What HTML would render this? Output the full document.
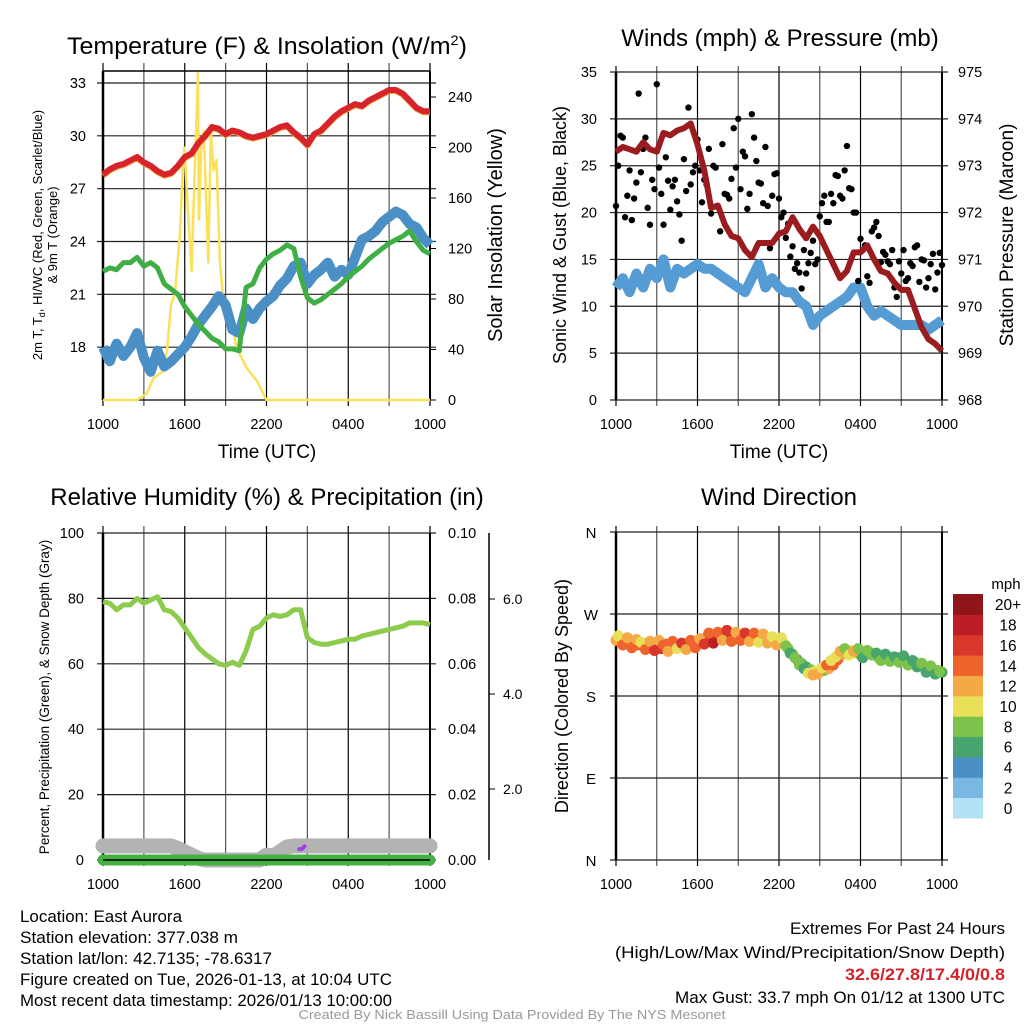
<!DOCTYPE html>
<html><head><meta charset="utf-8"><style>
html,body{margin:0;padding:0;background:#fff;}
svg{display:block;font-family:"Liberation Sans",sans-serif;}
</style></head><body>
<svg id="s" width="1024" height="1024" viewBox="0 0 1024 1024" xmlns="http://www.w3.org/2000/svg">
<g id="g"></g>
<g font-size="24" text-anchor="middle" fill="#000">
<text x="267" y="54" textLength="400" lengthAdjust="spacingAndGlyphs">Temperature (F) &amp; Insolation (W/m<tspan font-size="14" dy="-9">2</tspan><tspan dy="9">)</tspan></text>
<text x="780" y="46">Winds (mph) &amp; Pressure (mb)</text>
<text x="267" y="505">Relative Humidity (%) &amp; Precipitation (in)</text>
<text x="779" y="505">Wind Direction</text>
</g>
<g font-size="16.5" fill="#000">
<text x="20" y="922" textLength="162" lengthAdjust="spacingAndGlyphs">Location: East Aurora</text>
<text x="20" y="943" textLength="218" lengthAdjust="spacingAndGlyphs">Station elevation: 377.038 m</text>
<text x="20" y="964" textLength="252" lengthAdjust="spacingAndGlyphs">Station lat/lon: 42.7135; -78.6317</text>
<text x="20" y="985" textLength="372" lengthAdjust="spacingAndGlyphs">Figure created on Tue, 2026-01-13, at 10:04 UTC</text>
<text x="20" y="1006" textLength="372" lengthAdjust="spacingAndGlyphs">Most recent data timestamp: 2026/01/13 10:00:00</text>
</g>
<g font-size="16.5" text-anchor="end" fill="#000">
<text x="1005" y="934" textLength="215" lengthAdjust="spacingAndGlyphs">Extremes For Past 24 Hours</text>
<text x="1005" y="958" textLength="390" lengthAdjust="spacingAndGlyphs">(High/Low/Max Wind/Precipitation/Snow Depth)</text>
<text x="1005" y="980" fill="#d2232a" font-weight="bold" textLength="160" lengthAdjust="spacingAndGlyphs">32.6/27.8/17.4/0/0.8</text>
<text x="1005" y="1003" textLength="330" lengthAdjust="spacingAndGlyphs">Max Gust: 33.7 mph On 01/12 at 1300 UTC</text>
</g>
<text x="512" y="1019" font-size="12.5" fill="#999" text-anchor="middle" textLength="427" lengthAdjust="spacingAndGlyphs">Created By Nick Bassill Using Data Provided By The NYS Mesonet</text>
</svg>
<script>
// ---- data (30-minute steps, 1000 UTC -> 1000 UTC) ----
const xTickLabels = ["1000","1600","2200","0400","1000"];
const tempF = [27.8,28.1,28.3,28.4,28.6,28.8,28.5,28.3,28.0,27.8,27.9,28.3,28.8,29.0,29.6,30.0,30.5,30.4,30.1,30.3,30.2,30.0,29.9,30.0,30.1,30.3,30.5,30.6,30.2,29.9,29.5,30.1,30.3,30.7,31.1,31.4,31.6,31.8,31.7,32.0,32.2,32.4,32.6,32.6,32.4,32.0,31.6,31.4,31.4];
const dewF = [22.3,22.5,22.4,22.8,22.8,23.1,22.6,22.8,22.5,21.6,21.3,21.0,20.3,19.8,19.3,18.9,18.5,18.3,17.9,17.9,17.8,21.4,21.6,22.5,23.0,23.3,23.5,23.8,23.6,22.0,20.8,20.5,20.7,21.0,21.3,21.6,22.0,22.3,22.6,23.0,23.3,23.6,23.9,24.1,24.3,24.6,24.0,23.5,23.3];
const chillF = [18.0,17.2,18.2,17.5,18.0,18.8,17.4,16.6,17.8,16.9,17.2,17.6,18.0,18.6,19.3,19.8,20.3,20.9,20.4,19.0,18.8,20.2,19.6,20.2,20.6,20.9,21.5,21.9,22.6,22.8,21.6,22.1,22.4,22.8,22.0,22.4,22.1,23.1,24.1,24.3,24.6,25.1,25.4,25.7,25.5,25.0,24.8,24.2,23.8];
const solarHours = [0,2.5,3.2,3.7,4.4,4.7,5.0,5.28,5.65,5.85,5.97,6.3,6.5,6.7,6.97,7.04,7.24,7.4,7.73,7.92,8.1,8.33,8.58,8.87,9.3,9.8,10.5,11.3,12.0,24];
const solarW = [0,0,5,17,23,39,76,84,132,182,200,139,102,171,259,143,208,213,109,213,182,190,110,73,68,42,26,15,0,0];
const windMph = [12,13,11.5,13.5,12,14,13,15,12,14,13.5,14,14.5,14,14,13.5,13,12.5,12,11.5,13,14.5,12,13,12,11.5,11.5,10.5,10,8,9,9.5,10,10.5,11,12,12,10,9,9.5,9,8.5,8,8,8,8,7.5,8,8.5];
const pressMb = [973.3,973.4,973.35,973.3,973.5,973.35,973.3,973.7,973.65,973.75,973.8,973.9,973.45,972.9,972.1,972.15,971.75,971.5,971.45,971.2,971.05,971.35,971.35,971.35,971.55,971.6,971.9,971.65,971.45,971.7,971.5,971.2,970.9,970.6,970.75,971.15,971.15,971.3,971.0,970.75,970.7,970.5,970.35,970.35,969.95,969.55,969.3,969.2,969.05];
const gustA = [20.7,28.2,19.5,24.5,21.5,32.7,26.8,20.5,23.5,33.7,22.0,25.9,20.3,23.5,19.8,25.7,31.2,24.3,27.8,21.1,23.0,19.9,24.8,18.0,22.0,21.5,29.0,30.0,26.5,20.4,30.5,25.5,23.1,27.0,16.2,24.1,21.5,20.0,18.8,16.4,14.6,11.9,13.5,15.7,14.5,19.6,21.8,19.0,21.0,23.9,21.5,27.1,22.5,20.0,17.2,16.5,12.5,18.4,17.5,15.8,14.8,16.0,11.0,13.5,12.7,14.6,16.3,12.6,14.9,13.0,15.6,13.6,14.4];
const gustB = [25.0,28.0,21.8,19.2,23.2,24.3,28.0,18.7,22.5,24.8,18.7,23.4,22.8,21.2,17.0,22.3,23.0,25.0,24.5,23.5,26.8,25.0,20.6,27.3,21.9,23.6,24.8,22.5,26.0,22.0,28.0,23.2,21.0,20.7,21.8,24.2,19.5,17.3,15.3,14.0,13.6,16.0,14.6,17.0,15.0,21.0,19.0,22.0,24.0,21.8,24.5,22.6,20.0,12.7,16.0,13.2,18.0,19.0,14.7,15.5,14.5,12.0,14.8,16.0,13.0,14.3,16.5,15.0,12.0,14.5,11.8,15.7];
const rhPct = [79,78.5,76.5,78,78,80,78.5,79.5,80.5,76.5,76,74,71,68,65,63,61.5,60,59.5,60.5,59.5,64,70.5,71.5,74,75,74.5,75,76.5,76.5,68,66.5,66,66,66.5,67,67.5,67.5,68.5,69,69.5,70,70.5,71,71.5,72.5,72.5,72.5,72];
const snowPct = [4.3,4.3,4.3,4.3,4.3,4.3,4.3,4.3,4.3,4.3,4.3,3.5,2.5,1.5,0.5,0,0,0,0,0,0,0,0,0,1.5,1.2,2.5,4.0,4.3,4.3,4.3,4.3,4.3,4.3,4.3,4.3,4.3,4.3,4.3,4.3,4.3,4.3,4.3,4.3,4.3,4.3,4.3,4.3,4.3];
const precipIn = [0,0,0,0,0,0,0,0,0,0,0,0,0,0,0,0,0,0,0,0,0,0,0,0,0,0,0,0,0,0,0,0,0,0,0,0,0,0,0,0,0,0,0,0,0,0,0,0,0];
const purpleHours = [14.4,14.6,14.8];
const purpleVal = [3.3,3.4,4.2];
const dirDeg = [241,240,238,240,237,236,238,235,236,234,232,237,235,234,236,234,236,238,239,241,244,242,245,246,247,243,245,247,246,244,245,244,246,243,242,240,241,238,232,226,220,216,212,209,207,206,208,210,214,220,226,228,230,227,225,226,228,225,222,224,223,220,222,221,218,216,217,214,212,210,209,208,206];
const dirSpeed = [12,13,14,13,15,14,12,13,15,14,16,14,13,14,15,14,13,12,14,15,16,17,16,15,14,16,17,15,14,13,15,14,12,13,12,11,12,10,9,8,7,8,7,8,10,11,9,12,14,15,12,11,10,11,9,8,8,10,8,7,8,8,7,8,7,8,7,8,7,8,7,8,7];
const dirDegB = [246,236,244,233,242,239,231,240,230,241,236,229,240,232,238,231,241,233,243,237,249,238,250,241,252,240,250,241,249,240,249,239,248,238,245,236,244,235,227,222,214,210,205,203,204,211,214,219,223,229,232,225,229,232,222,230,225,227,219,226,218,223,217,224,214,219,212,216,206,213,204,207];
const dirSpeedB = [11,14,12,15,13,11,14,12,16,13,15,12,14,11,16,13,15,14,12,16,14,18,15,13,17,15,12,14,16,12,14,11,13,12,10,12,11,9,7,8,9,7,10,12,13,11,15,10,11,12,9,10,12,8,7,9,8,7,8,6,8,7,8,7,8,7,6,8,7,8,7,8];
const cbLabels = ["0","2","4","6","8","10","12","14","16","18","20+"];
const cbColors = ["#b3e2f5","#7ab8e3","#4a8fc6","#48a56e","#7cc24b","#e8e059","#f4a947","#ee642c","#d9372c","#bd1e26","#8f1518"];

const NS="http://www.w3.org/2000/svg";
const root=document.getElementById('g');
function mk(tag,attrs,parent){const e=document.createElementNS(NS,tag);for(const k in attrs)e.setAttribute(k,attrs[k]);(parent||root).appendChild(e);return e;}
function txt(x,y,s,size,anchor,parent,rot){const e=mk('text',{x:x,y:y,'font-size':size,'text-anchor':anchor||'middle',fill:'#000'},parent);if(rot)e.setAttribute('transform','rotate(-90 '+x+' '+y+')');e.textContent=s;return e;}
function linear(d0,d1,r0,r1){return v=>r0+(v-d0)*(r1-r0)/(d1-d0);}
function pathOf(xs,ys,fx,fy){return xs.map((h,i)=>(i?'L':'M')+fx(h).toFixed(1)+' '+fy(ys[i]).toFixed(1)).join(' ');}
const half=[];for(let i=0;i<49;i++)half.push(i*0.5);
const third=[];for(let i=0;i<73;i++)third.push(i/3);
const thirdB=[];for(let i=0;i<72;i++)thirdB.push(i/3+1/6);

function grid(L,R,T,B,yTicks,fy,panel,extTop){
  const g=mk('g',{});
  
  
  const fx=linear(0,24,L,R);
  for(let h=0;h<=24;h+=3){const x=fx(h);mk('line',{x1:x,x2:x,y1:T-extTop,y2:B+6,stroke:(h%6==0)?'#000':'#555','stroke-width':1.2},g);}
  yTicks.forEach(v=>{const y=fy(v);mk('line',{x1:L-6,x2:R+6,y1:y,y2:y,stroke:'#222','stroke-width':1.2},g);});
  mk('line',{x1:L,x2:L,y1:T,y2:B,stroke:'#000','stroke-width':2.5},g);
  mk('line',{x1:R,x2:R,y1:T,y2:B,stroke:'#000','stroke-width':2},g);
  const lab=mk('g',{});
  
  
  xTickLabels.forEach((s,i)=>txt(fx(i*6),B+29,s,14.5,'middle',lab));
  return fx;
}

// ---- Panel 1: temperature ----
{
 const L=103,R=430,T=71,B=400;
 const fy=linear(15,33,400,83), fs=linear(0,240,400,97);
 const fx=grid(L,R,T,B,[18,21,24,27,30,33],fy,'temp-panel',8);
 mk('line',{x1:L,x2:R,y1:T,y2:T,stroke:'#000','stroke-width':1.5});
 mk('line',{x1:L,x2:R,y1:B,y2:B,stroke:'#000','stroke-width':1.2});
 const yl=mk('g',{});
 [18,21,24,27,30,33].forEach(v=>txt(86,fy(v)+5,String(v),14.5,'end',yl));
 const yr=mk('g',{});
 [0,40,80,120,160,200,240].forEach(v=>{txt(448,fs(v)+5,String(v),14.5,'start',yr);mk('line',{x1:R,x2:R+6,y1:fs(v),y2:fs(v),stroke:'#000'},yr);});
 const s=mk('path',{d:pathOf(solarHours,solarW,fx,fs),fill:'none',stroke:'#fbe05a','stroke-width':2.5,'stroke-linejoin':'round'});
 
 const c=mk('path',{d:pathOf(half,chillF,fx,fy),fill:'none',stroke:'#4a8fc6','stroke-width':10,'stroke-linejoin':'round'});
 
 const d=mk('path',{d:pathOf(half,dewF,fx,fy),fill:'none',stroke:'#3fae44','stroke-width':5,'stroke-linejoin':'round'});
 
 const o=mk('path',{d:pathOf(half,tempF,fx,v=>fy(v)+1),fill:'none',stroke:'#f3a040','stroke-width':6,'stroke-linejoin':'round'});
 
 const t=mk('path',{d:pathOf(half,tempF,fx,fy),fill:'none',stroke:'#d7242a','stroke-width':6,'stroke-linejoin':'round'});
 
 const a=txt(42,235,'2m T, T',13,'middle',null,true);
 a.innerHTML='2m T, T<tspan font-size="9" dy="3">d</tspan><tspan dy="-3">, HI/WC (Red, Green, Scarlet/Blue)</tspan>';
 
 const a2=txt(57,235,'& 9m T (Orange)',13,'middle',null,true);
 
 const r=txt(502,235,'Solar Insolation (Yellow)',20,'middle',null,true);
 
 const x=txt(267,458,'Time (UTC)',19);
 
}

// ---- Panel 2: winds ----
{
 const L=616,R=942,T=72,B=400;
 const fy=linear(0,35,400,72), fp=linear(968,975,400,72);
 const fx=grid(L,R,T,B,[0,5,10,15,20,25,30,35],fy,'wind-panel',6);
 const yl=mk('g',{});
 [0,5,10,15,20,25,30,35].forEach(v=>txt(597,fy(v)+5,String(v),14.5,'end',yl));
 const yr=mk('g',{});
 [968,969,970,971,972,973,974,975].forEach(v=>txt(958,fp(v)+5,String(v),14.5,'start',yr));
 const w=mk('path',{d:pathOf(half,windMph,fx,fy),fill:'none',stroke:'#559bd4','stroke-width':10,'stroke-linejoin':'round'});
 
 const gg=mk('g',{});
 gustA.forEach((v,i)=>mk('circle',{cx:fx(third[i]),cy:fy(v),r:3.2,fill:'#000'},gg));
 gustB.forEach((v,i)=>mk('circle',{cx:fx(thirdB[i]),cy:fy(v),r:3.2,fill:'#000'},gg));
 const p=mk('path',{d:pathOf(half,pressMb,fx,fp),fill:'none',stroke:'#9b1c1f','stroke-width':6,'stroke-linejoin':'round'});
 
 const a=txt(566,235,'Sonic Wind & Gust (Blue, Black)',18,'middle',null,true);
 
 const r=txt(1013,235,'Station Pressure (Maroon)',19,'middle',null,true);
 
 const x=txt(779,458,'Time (UTC)',19);
 
}

// ---- Panel 3: RH ----
{
 const L=103,R=430,T=533,B=860;
 const fy=linear(0,100,860,533);
 const fx=grid(L,R,T,B,[0,20,40,60,80,100],fy,'rh-panel',7);
 const yl=mk('g',{});
 [0,20,40,60,80,100].forEach(v=>txt(84,fy(v)+5,String(v),14.5,'end',yl));
 const yr=mk('g',{});
 ['0.00','0.02','0.04','0.06','0.08','0.10'].forEach((s,i)=>txt(448,fy(i*20)+5,s,14.5,'start',yr));
 const ax=mk('g',{});
 mk('line',{x1:489,x2:489,y1:533,y2:860,stroke:'#000','stroke-width':1.5},ax);
 const fsn=linear(0,6,884,599);
 [2,4,6].forEach(v=>{mk('line',{x1:489,x2:495,y1:fsn(v),y2:fsn(v),stroke:'#000'},ax);txt(503,fsn(v)+5,v.toFixed(1),14,'start',ax);});
 const sn=mk('path',{d:pathOf(half,snowPct,fx,fy),fill:'none',stroke:'#b3b3b3','stroke-width':15,'stroke-linejoin':'round','stroke-linecap':'round'});
 
 const pr=mk('path',{d:pathOf(half,precipIn,fx,v=>fy(v*1000)),fill:'none',stroke:'#45b044','stroke-width':11,'stroke-linecap':'round'});
 
 mk('line',{x1:L,x2:R,y1:B,y2:B,stroke:'#000','stroke-width':1.5});
 const pu=mk('path',{d:pathOf(purpleHours,purpleVal,fx,fy),fill:'none',stroke:'#a23ee8','stroke-width':4,'stroke-linecap':'round'});
 
 const rh=mk('path',{d:pathOf(half,rhPct,fx,fy),fill:'none',stroke:'#8dcb4d','stroke-width':5,'stroke-linejoin':'round'});
 
 const a=txt(49,697,'Percent, Precipitation (Green), & Snow Depth (Gray)',13.5,'middle',null,true);
 
}

// ---- Panel 4: direction ----
{
 const L=616,R=942,T=532,B=860;
 const fy=linear(0,360,860,532);
 const fx=grid(L,R,T,B,[0,90,180,270,360],fy,'direction-panel',6);
 const yl=mk('g',{});
 ['N','E','S','W','N'].forEach((s,i)=>txt(591,fy(i*90)+6,s,15,'middle',yl));
 const dg=mk('g',{});
 dirDeg.forEach((v,i)=>{const k=Math.min(10,Math.floor(dirSpeed[i]/2));mk('circle',{cx:fx(third[i]),cy:fy(v),r:5.5,fill:cbColors[k]},dg);});
 dirDegB.forEach((v,i)=>{const k=Math.min(10,Math.floor(dirSpeedB[i]/2));mk('circle',{cx:fx(thirdB[i]),cy:fy(v),r:5.5,fill:cbColors[k]},dg);});
 const a=txt(568,696,'Direction (Colored By Speed)',18,'middle',null,true);
 
 const cb=mk('g',{});
 const h=(818-594)/11;
 cbColors.forEach((c,i)=>{const y=818-(i+1)*h;mk('rect',{x:953,y:y,width:30,height:h+0.5,fill:c},cb);txt(1008,y+h/2+6,cbLabels[i],15.5,'middle',cb);});
 txt(1006,589,'mph',15,'middle',cb);
}
</script>
</body></html>
